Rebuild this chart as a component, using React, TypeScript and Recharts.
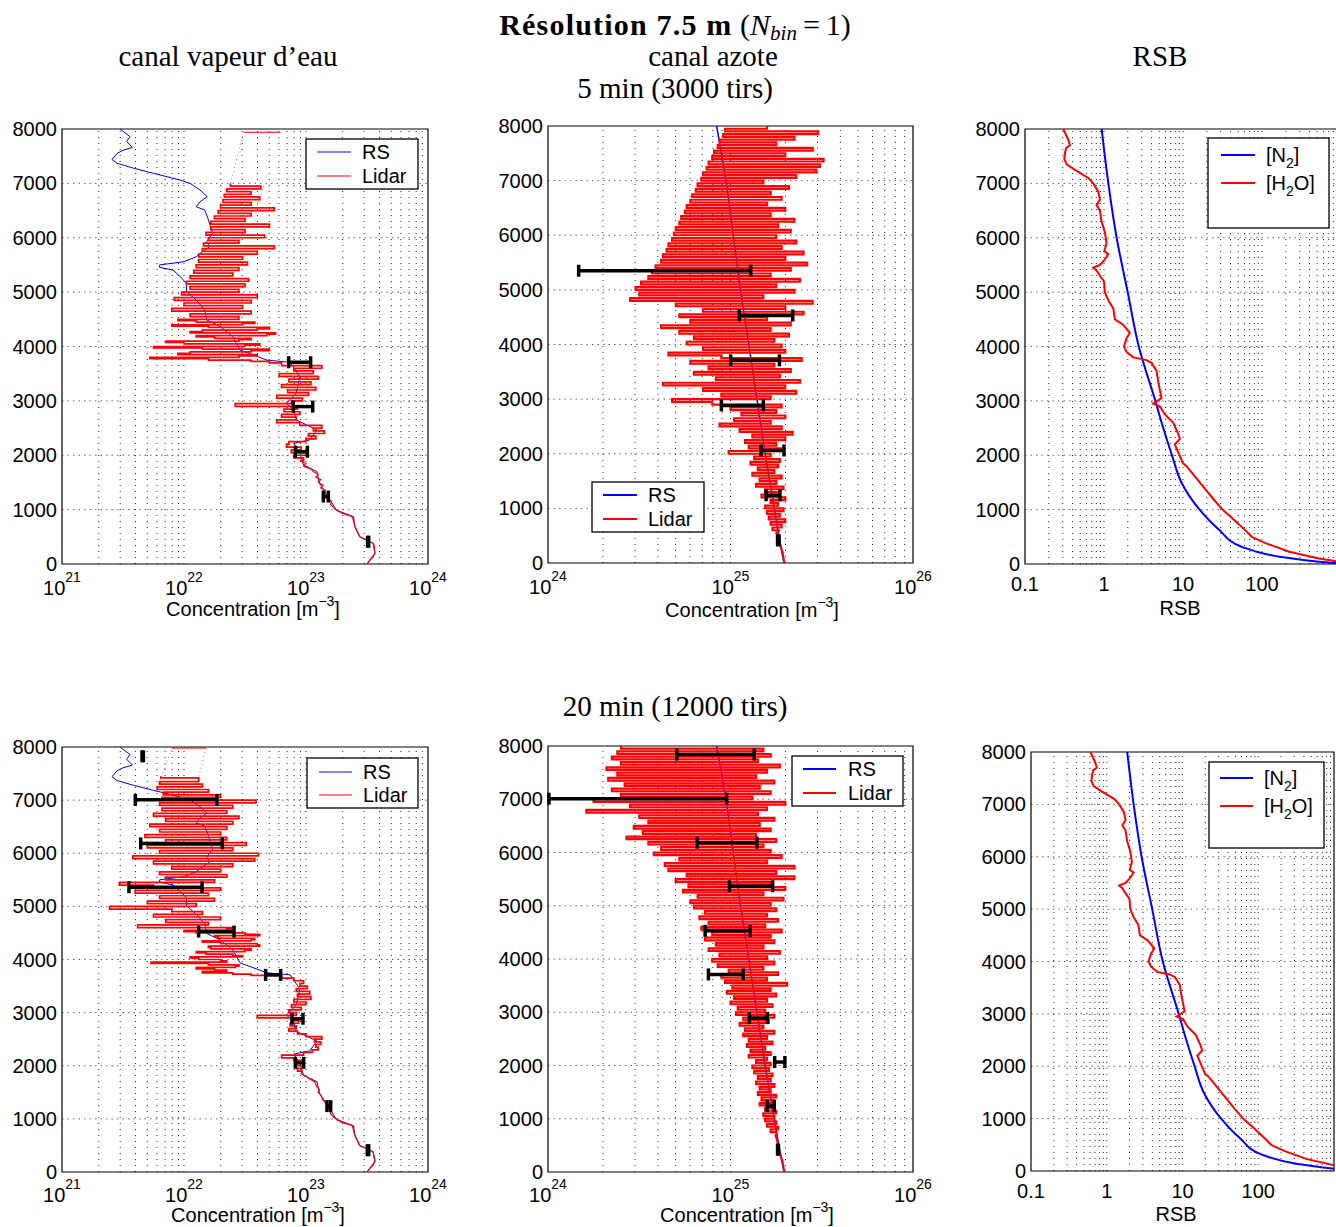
import React from 'react';
import { ScatterChart, Scatter, XAxis, YAxis, ReferenceLine, ReferenceArea, ErrorBar } from 'recharts';

const W = 1350;
const H = 1227;
const RED = '#ff0000';
const BLUE = '#0000ff';
const SANS = '"Liberation Sans", Arial, Helvetica, sans-serif';
const SERIF = '"Liberation Serif", "Times New Roman", serif';

// ---------- axes ----------
const Y_TICKS = [0, 1000, 2000, 3000, 4000, 5000, 6000, 7000, 8000];
const H_GRID = [1000, 2000, 3000, 4000, 5000, 6000, 7000];
const MANT = [1, 2, 3, 4, 5, 6, 7, 8, 9];
const H2O_TICKS = [1e21, 1e22, 1e23, 1e24];
const N2_TICKS = [1e24, 1e25, 1e26];
const RSB_TICKS = [0.1, 1, 10, 100];

// ---------- data: [altitude m, log10(value)] ----------
const rsH2O: [number, number][] = [[0,23.50],[200,23.565],[380,23.55],[500,23.44],[690,23.40],[870,23.39],[990,23.25],[1240,23.18],[1485,23.11],[1700,23.09],[1820,22.98],[2035,22.95],[2220,22.90],[2280,23.03],[2465,23.09],[2650,22.92],[2830,22.90],[2955,22.84],[3140,22.92],[3445,22.95],[3710,22.87],[3750,22.68],[3935,22.46],[4180,22.40],[4365,22.30],[4490,22.185],[4670,22.17],[4855,22.10],[5010,22.02],[5160,22.02],[5285,21.97],[5405,21.91],[5455,21.80],[5500,21.80],[5560,22.00],[5650,22.10],[5710,22.13],[5835,22.21],[5930,22.185],[6080,22.235],[6330,22.20],[6510,22.17],[6570,22.10],[6660,22.13],[6755,22.19],[6880,22.13],[7000,22.05],[7060,21.97],[7185,21.75],[7280,21.585],[7370,21.45],[7440,21.41],[7550,21.45],[7610,21.50],[7660,21.577],[7770,21.53],[7860,21.557],[8000,21.475]];

const rsN2: [number, number][] = [[0,25.293],[500,25.265],[1000,25.24],[2000,25.19],[3000,25.145],[4000,25.10],[5000,25.055],[6000,25.015],[7000,24.975],[7700,24.94],[8000,24.924]];

const h2oLidar5: [number, number][] = [[0,23.50],[60,23.52],[130,23.55],[200,23.565],[270,23.56],[330,23.56],[380,23.55],[440,23.50],[500,23.44],[600,23.42],[690,23.40],[780,23.39],[870,23.38],[930,23.30],[990,23.25],[1050,23.22],[1100,23.20],[1150,23.21],[1200,23.17],[1250,23.19],[1300,23.15],[1350,23.16],[1400,23.12],[1450,23.14],[1500,23.10],[1550,23.12],[1600,23.08],[1650,23.10],[1700,23.06],[1750,23.04],[1800,22.98],[1850,23.00],[1900,22.95],[1950,22.98],[2000,22.90],[2050,23.00],[2100,22.88],[2150,22.96],[2200,22.84],[2250,22.86],[2300,23.00],[2350,23.08],[2400,23.02],[2450,23.15],[2500,23.06],[2550,23.13],[2600,22.95],[2650,22.76],[2700,22.92],[2750,22.80],[2800,22.95],[2850,22.82],[2900,22.93],[2950,22.42],[3000,22.88],[3050,22.97],[3100,22.76],[3150,23.02],[3200,22.85],[3250,23.08],[3300,22.80],[3350,23.04],[3400,22.86],[3450,23.10],[3500,22.78],[3550,23.06],[3600,22.90],[3650,23.13],[3700,22.80],[3725,22.70],[3750,22.55],[3775,22.20],[3800,21.72],[3825,22.45],[3850,22.60],[3875,21.95],[3900,22.05],[3925,22.55],[3950,22.70],[3975,22.15],[4000,21.75],[4025,22.50],[4050,22.62],[4075,22.00],[4100,21.85],[4125,22.45],[4150,22.55],[4175,22.25],[4200,22.10],[4225,22.68],[4250,22.75],[4275,22.05],[4300,22.15],[4325,22.60],[4350,22.70],[4375,22.20],[4400,21.90],[4425,22.48],[4450,22.58],[4475,22.10],[4500,21.95],[4550,22.45],[4600,22.05],[4650,22.55],[4700,21.90],[4750,22.48],[4800,22.00],[4850,22.55],[4900,21.92],[4950,22.60],[5000,21.98],[5050,22.45],[5100,22.05],[5150,22.50],[5200,22.02],[5250,22.53],[5300,22.05],[5350,22.40],[5400,22.08],[5450,22.45],[5500,22.10],[5550,22.52],[5600,22.12],[5650,22.48],[5700,22.12],[5750,22.60],[5800,22.15],[5850,22.74],[5900,22.16],[5950,22.45],[6000,22.20],[6050,22.66],[6100,22.18],[6150,22.50],[6200,22.22],[6250,22.70],[6300,22.22],[6350,22.50],[6400,22.25],[6450,22.55],[6500,22.28],[6550,22.74],[6600,22.30],[6650,22.55],[6700,22.32],[6750,22.62],[6800,22.33],[6850,22.55],[6900,22.35],[6950,22.63],[7000,22.38]];
const h2oFaint5a: [number, number][] = [[7000,22.38],[7940,22.49]];
const h2oFaint5b: [number, number][] = [[6450,22.58],[7000,22.66]];
const h2oTop5: [number, number][] = [[7940,22.49],[7940,22.79]];

const n2Lidar5: [number, number][] = [[0,25.295],[100,25.29],[200,25.285],[300,25.275],[400,25.265],[500,25.26],[550,25.25],[600,25.27],[650,25.23],[700,25.28],[750,25.22],[800,25.30],[850,25.21],[900,25.27],[950,25.20],[1000,25.29],[1050,25.19],[1100,25.26],[1150,25.22],[1200,25.30],[1250,25.17],[1300,25.27],[1350,25.19],[1400,25.29],[1450,25.14],[1500,25.25],[1550,25.16],[1600,25.28],[1650,25.12],[1700,25.24],[1750,25.15],[1800,25.26],[1850,25.11],[1900,25.27],[1950,25.13],[2000,25.22],[2050,24.99],[2100,25.28],[2150,25.10],[2200,25.25],[2250,25.08],[2300,25.30],[2350,25.12],[2400,25.34],[2450,25.05],[2500,25.28],[2550,24.94],[2600,25.22],[2650,25.02],[2700,25.30],[2750,25.06],[2800,25.25],[2850,25.00],[2900,25.28],[2950,24.90],[3000,24.68],[3050,25.22],[3100,24.95],[3150,25.36],[3200,24.85],[3250,25.30],[3300,24.63],[3350,25.38],[3400,24.92],[3450,25.27],[3500,24.80],[3550,25.33],[3600,24.88],[3650,25.24],[3700,24.78],[3750,25.39],[3800,24.95],[3850,24.66],[3900,25.30],[3950,24.85],[4000,25.28],[4050,24.76],[4100,25.24],[4150,24.80],[4200,25.32],[4250,24.72],[4300,25.22],[4350,24.62],[4400,25.33],[4450,24.78],[4500,25.20],[4550,24.72],[4600,25.40],[4650,24.85],[4700,25.30],[4750,24.70],[4800,25.45],[4850,24.45],[4900,25.18],[4950,24.50],[5000,25.35],[5050,24.48],[5100,25.25],[5150,24.51],[5200,25.38],[5250,24.55],[5300,25.22],[5350,24.57],[5400,25.33],[5450,24.59],[5500,25.42],[5550,24.62],[5600,25.30],[5650,24.63],[5700,25.40],[5750,24.65],[5800,25.28],[5850,24.66],[5900,25.36],[5950,24.68],[6000,25.25],[6050,24.69],[6100,25.33],[6150,24.70],[6200,25.26],[6250,24.72],[6300,25.35],[6350,24.73],[6400,25.22],[6450,24.75],[6500,25.30],[6550,24.76],[6600,25.20],[6650,24.78],[6700,25.28],[6750,24.79],[6800,25.22],[6850,24.81],[6900,25.32],[6950,24.82],[7000,25.18],[7050,24.84],[7100,25.36],[7150,24.85],[7200,25.47],[7250,24.87],[7300,25.49],[7350,24.88],[7400,25.51],[7450,24.90],[7500,25.30],[7550,24.91],[7600,25.45],[7650,24.93],[7700,25.25],[7750,24.94],[7800,25.35],[7850,24.96],[7900,25.48],[7950,24.97],[8000,25.20]];

const h2oLidar20: [number, number][] = [[0,23.50],[60,23.52],[130,23.55],[200,23.565],[270,23.56],[330,23.555],[380,23.55],[440,23.50],[500,23.44],[600,23.42],[690,23.40],[780,23.39],[870,23.38],[930,23.30],[990,23.25],[1050,23.22],[1100,23.20],[1150,23.20],[1200,23.18],[1250,23.18],[1300,23.16],[1350,23.14],[1400,23.13],[1450,23.12],[1500,23.10],[1550,23.11],[1600,23.09],[1650,23.08],[1700,23.07],[1750,23.03],[1800,23.00],[1850,22.96],[1900,22.97],[1950,22.93],[2000,22.97],[2050,22.92],[2100,22.96],[2150,22.90],[2200,22.80],[2250,22.98],[2300,23.05],[2350,23.10],[2400,23.08],[2450,23.12],[2500,23.07],[2550,23.13],[2600,23.00],[2650,22.93],[2700,22.86],[2750,22.92],[2800,22.87],[2850,22.94],[2900,22.88],[2950,22.60],[3000,22.92],[3050,22.86],[3100,22.96],[3150,22.88],[3200,23.00],[3250,22.90],[3300,23.04],[3350,22.93],[3400,23.03],[3450,22.92],[3500,23.01],[3550,22.95],[3600,22.98],[3650,22.90],[3700,22.80],[3725,22.55],[3750,22.40],[3775,22.15],[3800,22.35],[3825,22.25],[3850,22.10],[3875,22.42],[3900,22.45],[3925,22.20],[3950,21.73],[3975,22.35],[4000,22.30],[4025,22.12],[4050,22.05],[4075,22.48],[4100,22.40],[4125,22.18],[4150,22.10],[4175,22.50],[4200,22.55],[4225,22.22],[4250,22.20],[4275,22.62],[4300,22.60],[4325,22.30],[4350,22.15],[4375,22.55],[4400,22.58],[4425,22.28],[4450,22.25],[4475,22.62],[4500,22.50],[4525,22.10],[4550,22.00],[4575,22.35],[4600,22.40],[4650,21.62],[4700,22.20],[4750,21.85],[4800,22.30],[4850,21.75],[4900,22.15],[4950,21.90],[5000,21.39],[5050,22.10],[5100,21.70],[5150,22.25],[5200,21.80],[5250,22.20],[5300,21.60],[5350,22.30],[5400,21.75],[5450,21.47],[5500,22.25],[5550,21.85],[5600,22.35],[5650,21.80],[5700,22.30],[5750,21.90],[5800,22.40],[5850,21.75],[5900,22.58],[5950,21.58],[6000,22.61],[6050,21.80],[6100,22.40],[6150,21.70],[6200,22.51],[6250,21.85],[6300,22.35],[6350,21.68],[6400,22.30],[6450,21.80],[6500,22.35],[6550,21.72],[6600,22.40],[6650,21.85],[6700,22.45],[6750,21.75],[6800,22.35],[6850,21.82],[6900,22.40],[6950,21.80],[7000,22.59],[7050,21.82],[7100,22.30],[7150,21.83],[7200,22.20],[7250,21.78],[7300,22.15],[7350,21.80],[7420,22.12],[7450,21.81]];
const h2oFaint20a: [number, number][] = [[7160,21.77],[7980,21.90]];
const h2oFaint20b: [number, number][] = [[7447,22.12],[7980,22.18]];
const h2oTop20: [number, number][] = [[7980,21.90],[7980,22.18]];

const n2Lidar20: [number, number][] = [[0,25.295],[100,25.29],[200,25.285],[300,25.275],[400,25.265],[500,25.26],[600,25.255],[700,25.245],[750,25.25],[800,25.22],[850,25.26],[900,25.20],[950,25.25],[1000,25.19],[1050,25.24],[1100,25.18],[1150,25.25],[1200,25.19],[1250,25.23],[1300,25.16],[1350,25.24],[1400,25.17],[1450,25.25],[1500,25.15],[1550,25.22],[1600,25.16],[1650,25.24],[1700,25.14],[1750,25.22],[1800,25.15],[1850,25.23],[1900,25.13],[1950,25.21],[2000,25.12],[2050,25.22],[2100,25.14],[2150,25.20],[2200,25.10],[2250,25.22],[2300,25.11],[2350,25.19],[2400,25.09],[2450,25.23],[2500,25.10],[2550,25.20],[2600,25.07],[2650,25.24],[2700,25.08],[2750,25.18],[2800,25.05],[2850,25.21],[2900,25.07],[2950,25.24],[3000,25.03],[3050,25.19],[3100,25.04],[3150,25.23],[3200,25.00],[3250,25.20],[3300,25.02],[3350,25.25],[3400,24.98],[3450,25.22],[3500,25.01],[3550,25.31],[3600,24.97],[3650,25.20],[3700,24.95],[3750,25.26],[3800,24.99],[3850,25.18],[3900,24.93],[3950,25.24],[4000,24.90],[4050,25.20],[4100,24.94],[4150,25.27],[4200,24.88],[4250,25.18],[4300,24.92],[4350,25.24],[4400,24.86],[4450,25.22],[4500,24.90],[4550,25.28],[4600,24.84],[4650,25.19],[4700,24.88],[4750,25.26],[4800,24.83],[4850,25.20],[4900,24.86],[4950,25.25],[5000,24.80],[5050,25.22],[5100,24.78],[5150,25.29],[5200,24.82],[5250,25.18],[5300,24.74],[5350,25.30],[5400,24.77],[5450,25.22],[5500,24.70],[5550,25.35],[5600,24.76],[5650,25.25],[5700,24.66],[5750,25.35],[5800,24.64],[5850,25.20],[5900,24.72],[5950,25.28],[6000,24.58],[6050,25.22],[6100,24.62],[6150,25.18],[6200,24.55],[6250,25.25],[6300,24.43],[6350,25.14],[6400,24.52],[6450,25.22],[6500,24.47],[6550,25.16],[6600,24.55],[6650,25.24],[6700,24.50],[6750,25.15],[6800,24.21],[6850,25.20],[6900,24.45],[6950,25.30],[7000,24.25],[7050,25.12],[7100,24.40],[7150,25.22],[7200,24.35],[7250,25.16],[7300,24.42],[7350,25.24],[7400,24.33],[7450,25.14],[7500,24.38],[7550,25.20],[7600,24.32],[7650,25.27],[7700,24.40],[7750,25.15],[7800,24.35],[7850,25.22],[7900,24.38],[7950,25.18],[8000,24.40]];

// error bars: [altitude, log10(low), log10(high)]
const errH2O5 = [[3710,22.858,23.038],[2895,22.896,23.055],[2065,22.913,23.011],[1240,23.142,23.183],[410,23.505,23.514]];
const errN25 = [[5350,24.168,25.111],[4530,25.048,25.341],[3710,25.001,25.268],[2885,24.950,25.180],[2060,25.167,25.293],[1240,25.195,25.271],[415,25.258,25.266]];
const errH2O20 = [[7825,21.656,21.667],[7005,21.601,22.270],[6185,21.645,22.314],[5360,21.549,22.148],[4525,22.12,22.41],[3710,22.669,22.792],[2885,22.885,22.975],[2055,22.913,22.981],[1240,23.172,23.202],[410,23.503,23.514]];
const errN220 = [[7840,24.706,25.130],[7010,24.005,24.979],[6185,24.817,25.145],[5365,24.994,25.231],[4530,24.861,25.108],[3710,24.879,25.07],[2890,25.103,25.201],[2065,25.242,25.298],[1240,25.201,25.240],[420,25.258,25.263]];

// RSB (signal to noise), [altitude, log10(RSB)]
const rsbN2_5: [number, number][] = [[8000,-0.03],[7000,0.055],[6000,0.16],[5000,0.30],[4000,0.44],[3000,0.65],[2500,0.75],[2000,0.86],[1500,0.98],[1000,1.21],[625,1.46],[318,1.74],[134,2.22],[42,2.72],[0,3.1]];
const rsbH2O_5: [number, number][] = [[8000,-0.515],[7800,-0.452],[7700,-0.431],[7650,-0.48],[7550,-0.494],[7450,-0.503],[7350,-0.473],[7250,-0.368],[7100,-0.199],[7000,-0.136],[6850,-0.073],[6700,-0.052],[6600,-0.094],[6500,-0.052],[6300,-0.031],[6100,0.011],[5900,0.032],[5750,0.003],[5700,0.054],[5600,0.011],[5500,-0.052],[5450,-0.136],[5400,-0.094],[5300,-0.052],[5200,-0.001],[5000,0.011],[4850,0.054],[4700,0.117],[4500,0.138],[4400,0.243],[4250,0.327],[4150,0.285],[4000,0.252],[3900,0.285],[3800,0.37],[3750,0.538],[3700,0.601],[3550,0.665],[3350,0.686],[3200,0.707],[3050,0.728],[2950,0.622],[2900,0.707],[2750,0.77],[2600,0.875],[2400,0.938],[2300,0.96],[2200,0.896],[1850,1.0],[1800,1.044],[1500,1.212],[1200,1.381],[1000,1.5],[800,1.655],[600,1.802],[500,1.87],[380,2.05],[226,2.345],[103,2.72],[55,2.92],[0,3.2]];
const rsbN2_20: [number, number][] = [[8000,0.27],[7000,0.355],[6000,0.46],[5000,0.60],[4000,0.74],[3000,0.95],[2500,1.05],[2000,1.16],[1500,1.28],[1000,1.51],[625,1.76],[318,2.04],[134,2.52],[42,3.02],[0,3.4]];
const rsbH2O_20: [number, number][] = [[8000,-0.215],[7800,-0.152],[7700,-0.131],[7650,-0.18],[7550,-0.194],[7450,-0.203],[7350,-0.173],[7250,-0.068],[7100,0.101],[7000,0.164],[6850,0.227],[6700,0.248],[6600,0.206],[6500,0.248],[6300,0.269],[6100,0.311],[5900,0.332],[5750,0.303],[5700,0.354],[5600,0.311],[5500,0.248],[5450,0.164],[5400,0.206],[5300,0.248],[5200,0.299],[5000,0.311],[4850,0.354],[4700,0.417],[4500,0.438],[4400,0.543],[4250,0.627],[4150,0.585],[4000,0.552],[3900,0.585],[3800,0.67],[3750,0.838],[3700,0.901],[3550,0.965],[3350,0.986],[3200,1.007],[3050,1.028],[2950,0.922],[2900,1.007],[2750,1.07],[2600,1.175],[2400,1.238],[2300,1.26],[2200,1.196],[1850,1.3],[1800,1.344],[1500,1.512],[1200,1.681],[1000,1.8],[800,1.955],[600,2.102],[500,2.17],[380,2.35],[226,2.645],[103,3.02],[55,3.22],[0,3.5]];

// ---------- helpers ----------
type Pt = { x: number; y: number };
const toPts = (pairs: [number, number][]): Pt[] => pairs.map(([y, e]) => ({ x: Math.pow(10, e), y }));
const toBars = (rows: number[][]) =>
  rows.map(([y, lo, hi]) => {
    const c = Math.pow(10, (lo + hi) / 2);
    return { x: c, y, err: [c - Math.pow(10, lo), Math.pow(10, hi) - c] };
  });
// split a profile at an altitude (quiet part below, noisy part above)
const below = (pairs: [number, number][], a: number) => pairs.filter(([y]) => y <= a);
const above = (pairs: [number, number][], a: number) => pairs.filter(([y]) => y >= a);

const noDot = () => <g />;

const trace = (key: string, pairs: [number, number][], color: string, width: number, extra: any = {}, joint: any = 'linear') => (
  <Scatter
    key={key}
    data={toPts(pairs)}
    fill={color}
    line={{ stroke: color, strokeWidth: width, ...extra }}
    lineJointType={joint}
    shape={noDot}
    isAnimationActive={false}
  />
);

const bars = (key: string, rows: number[][]) => (
  <Scatter key={key} data={toBars(rows)} fill="#000" shape={noDot} isAnimationActive={false}>
    <ErrorBar dataKey="err" direction="x" width={6} strokeWidth={3.5} stroke="#000" isAnimationActive={false} />
  </Scatter>
);

const makePowTick = (dy: number) => (p: any) => {
  const e = Math.round(Math.log10(p.payload.value));
  return (
    <text x={p.x} y={p.y + dy} textAnchor="middle" fontFamily={SANS} fontSize={20} fill="#000">
      <tspan>10</tspan>
      <tspan dy={-13} fontSize={14}>{e}</tspan>
    </text>
  );
};
const makePlainTick = (dy: number) => (p: any) => (
  <text x={p.x} y={p.y + dy} textAnchor="middle" fontFamily={SANS} fontSize={20} fill="#000">
    {String(p.payload.value)}
  </text>
);
const YTick = (p: any) => (
  <text x={p.x - 5} y={p.y + 7} textAnchor="end" fontFamily={SANS} fontSize={20} fill="#000">
    {p.payload.value}
  </text>
);

type PanelProps = {
  rect: number[];
  domain: [number, number];
  ticks: number[];
  pow: boolean;
  tickDy: number;
  decades: number[];
  children: React.ReactNode;
  top?: React.ReactNode;
};

const AX_W = 60;
const AX_H = 40;

function axes(domain: [number, number], ticks: number[], xTick: any, yTick: any) {
  return [
    <XAxis
      key="x"
      type="number"
      dataKey="x"
      scale="log"
      domain={domain}
      ticks={ticks}
      allowDataOverflow
      interval={0}
      height={AX_H}
      tickSize={0}
      tickMargin={0}
      axisLine={false}
      tickLine={false}
      tick={xTick}
    />,
    <YAxis
      key="y"
      type="number"
      dataKey="y"
      domain={[0, 8000]}
      ticks={Y_TICKS}
      allowDataOverflow
      interval={0}
      width={AX_W}
      tickSize={0}
      tickMargin={0}
      axisLine={false}
      tickLine={false}
      tick={yTick}
    />,
  ];
}

function Panel({ rect, domain, ticks, pow, tickDy, decades, children, top }: PanelProps) {
  const [L, T, R, B] = rect;
  const margin = { left: L - AX_W, top: T, right: W - R, bottom: H - B - AX_H };
  const vgrid = decades
    .flatMap((d) => MANT.map((m) => m * Math.pow(10, d)))
    .filter((v) => v > domain[0] * 1.001 && v < domain[1] * 0.999);
  const XT = pow ? makePowTick(tickDy) : makePlainTick(tickDy);
  return (
    <>
      <div style={{ position: 'absolute', left: 0, top: 0 }}>
        <ScatterChart width={W} height={H} margin={margin}>
          {axes(domain, ticks, <XT />, <YTick />)}
          {vgrid.map((v) => (
            <ReferenceLine key={'v' + v} x={v} stroke="#222" strokeWidth={1} strokeDasharray="1 5" />
          ))}
          {H_GRID.map((v) => (
            <ReferenceLine key={'h' + v} y={v} stroke="#666" strokeWidth={1} strokeDasharray="1.5 4" />
          ))}
        </ScatterChart>
      </div>
      <div style={{ position: 'absolute', left: 0, top: 0 }}>
        <ScatterChart width={W} height={H} margin={margin}>
          {axes(domain, ticks, false, false)}
          {children}
          <ReferenceArea x1={domain[0]} x2={domain[1]} y1={0} y2={8000} fill="none" stroke="#000" strokeWidth={1.2} ifOverflow="visible" />
        </ScatterChart>
      </div>
      {top ? (
        <div style={{ position: 'absolute', left: 0, top: 0 }}>
          <ScatterChart width={W} height={H} margin={margin}>
            {axes(domain, ticks, false, false)}
            {top}
          </ScatterChart>
        </div>
      ) : null}
    </>
  );
}

function Legend({ box, lineX, textX, rows, lw }: { box: number[]; lineX: number[]; textX: number; rows: { y: number; color: string; label: React.ReactNode }[]; lw: number }) {
  return (
    <g>
      <rect x={box[0]} y={box[1]} width={box[2] - box[0]} height={box[3] - box[1]} fill="#fff" stroke="#000" strokeWidth={1.3} />
      {rows.map((r, i) => (
        <g key={i}>
          <line x1={lineX[0]} x2={lineX[1]} y1={r.y} y2={r.y} stroke={r.color} strokeWidth={lw} />
          <text x={textX} y={r.y + 7} fontFamily={SANS} fontSize={20} fill="#000">{r.label}</text>
        </g>
      ))}
    </g>
  );
}

const n2Label = (
  <>
    [N<tspan dy={6} fontSize={14}>2</tspan><tspan dy={-6}>]</tspan>
  </>
);
const h2oLabel = (
  <>
    [H<tspan dy={6} fontSize={14}>2</tspan><tspan dy={-6}>O]</tspan>
  </>
);

const ConcLabel = ({ x, y }: { x: number; y: number }) => (
  <text x={x} y={y} textAnchor="middle" fontFamily={SANS} fontSize={20} fill="#000">
    Concentration [m<tspan dy={-10} fontSize={14}>−3</tspan><tspan dy={10}>]</tspan>
  </text>
);

function Overlay() {
  return (
    <svg width={1336} height={1227} style={{ position: 'absolute', left: 0, top: 0 }}>
      <text x={675} y={35} textAnchor="middle" fontFamily={SERIF} fontSize={30} fill="#000">
        <tspan fontWeight="bold" letterSpacing={1.2}>Résolution 7.5 m</tspan>
        <tspan> (</tspan>
        <tspan fontStyle="italic">N</tspan>
        <tspan fontStyle="italic" fontSize={21} dy={5}>bin</tspan>
        <tspan dy={-5} dx={6}>=</tspan>
        <tspan dx={6}>1)</tspan>
      </text>
      <text x={228} y={66} textAnchor="middle" fontFamily={SERIF} fontSize={29} fill="#000">canal vapeur d’eau</text>
      <text x={713} y={66} textAnchor="middle" fontFamily={SERIF} fontSize={29} fill="#000">canal azote</text>
      <text x={1160} y={66} textAnchor="middle" fontFamily={SERIF} fontSize={29} fill="#000">RSB</text>
      <text x={675} y={98} textAnchor="middle" fontFamily={SERIF} fontSize={29} fill="#000">5 min (3000 tirs)</text>
      <text x={675} y={716} textAnchor="middle" fontFamily={SERIF} fontSize={29} fill="#000">20 min (12000 tirs)</text>

      <ConcLabel x={253} y={616} />
      <ConcLabel x={752} y={617} />
      <ConcLabel x={258} y={1222} />
      <ConcLabel x={747} y={1222} />
      <text x={1180} y={615} textAnchor="middle" fontFamily={SANS} fontSize={20} fill="#000">RSB</text>
      <text x={1176} y={1221} textAnchor="middle" fontFamily={SANS} fontSize={20} fill="#000">RSB</text>

      <Legend box={[306, 139, 418, 189]} lineX={[317, 351]} textX={362} lw={1}
        rows={[{ y: 152, color: BLUE, label: 'RS' }, { y: 176, color: RED, label: 'Lidar' }]} />
      <Legend box={[592, 482, 704, 532]} lineX={[603, 637]} textX={648} lw={2}
        rows={[{ y: 495, color: BLUE, label: 'RS' }, { y: 519, color: RED, label: 'Lidar' }]} />
      <Legend box={[1208, 138, 1329, 228]} lineX={[1221, 1255]} textX={1266} lw={2}
        rows={[{ y: 155, color: BLUE, label: n2Label }, { y: 183, color: RED, label: h2oLabel }]} />
      <Legend box={[307, 758, 418, 808]} lineX={[319, 352]} textX={363} lw={1}
        rows={[{ y: 772, color: BLUE, label: 'RS' }, { y: 795, color: RED, label: 'Lidar' }]} />
      <Legend box={[792, 756, 903, 806]} lineX={[803, 836]} textX={848} lw={2}
        rows={[{ y: 769, color: BLUE, label: 'RS' }, { y: 793, color: RED, label: 'Lidar' }]} />
      <Legend box={[1209, 762, 1324, 848]} lineX={[1220, 1253]} textX={1264} lw={2}
        rows={[{ y: 778, color: BLUE, label: n2Label }, { y: 806, color: RED, label: h2oLabel }]} />
    </svg>
  );
}

export default function App() {
  return (
    <div style={{ position: 'absolute', left: 0, top: 0, width: 1336, height: 1227, overflow: 'hidden', background: '#fff' }}>
      <Panel rect={[62, 129, 428, 564]} domain={[1e21, 1e24]} ticks={H2O_TICKS} pow tickDy={31} decades={[21, 22, 23]}
        top={bars('eb1', errH2O5)}>
        {trace('rs1', rsH2O, BLUE, 1)}
        {trace('li1a', below(h2oLidar5, 1900), RED, 1.2)}
        {trace('li1b', above(h2oLidar5, 1900), RED, 1.7, {}, 'stepAfter')}
        {trace('fa1', h2oFaint5a, RED, 0.8, { strokeDasharray: '1 3', strokeOpacity: 0.8 })}
        {trace('fb1', h2oFaint5b, RED, 0.8, { strokeDasharray: '1 3', strokeOpacity: 0.8 })}
        {trace('tp1', h2oTop5, RED, 1)}
      </Panel>
      <Panel rect={[548, 126, 913, 563]} domain={[1e24, 1e26]} ticks={N2_TICKS} pow tickDy={31} decades={[24, 25]}
        top={bars('eb2', errN25)}>
        {trace('rs2', rsN2, BLUE, 1.5, {}, 'monotoneY')}
        {trace('li2a', below(n2Lidar5, 600), RED, 2)}
        {trace('li2b', above(n2Lidar5, 600), RED, 2.2, {}, 'stepAfter')}
      </Panel>
      <Panel rect={[1025, 129, 1341, 564]} domain={[0.1, 1000]} ticks={RSB_TICKS} pow={false} tickDy={27} decades={[-1, 0, 1, 2]}>
        {trace('n3', rsbN2_5, BLUE, 2, {}, 'monotoneY')}
        {trace('h3', rsbH2O_5, RED, 2)}
      </Panel>
      <Panel rect={[62, 747, 428, 1172]} domain={[1e21, 1e24]} ticks={H2O_TICKS} pow tickDy={30} decades={[21, 22, 23]}
        top={bars('eb4', errH2O20)}>
        {trace('rs4', rsH2O, BLUE, 1)}
        {trace('li4a', below(h2oLidar20, 1900), RED, 1.2)}
        {trace('li4b', above(h2oLidar20, 1900), RED, 1.7, {}, 'stepAfter')}
        {trace('fa4', h2oFaint20a, RED, 0.8, { strokeDasharray: '1 3', strokeOpacity: 0.8 })}
        {trace('fb4', h2oFaint20b, RED, 0.8, { strokeDasharray: '1 3', strokeOpacity: 0.8 })}
        {trace('tp4', h2oTop20, RED, 1)}
      </Panel>
      <Panel rect={[548, 746, 913, 1172]} domain={[1e24, 1e26]} ticks={N2_TICKS} pow tickDy={30} decades={[24, 25]}
        top={bars('eb5', errN220)}>
        {trace('rs5', rsN2, BLUE, 1.5, {}, 'monotoneY')}
        {trace('li5a', below(n2Lidar20, 700), RED, 2)}
        {trace('li5b', above(n2Lidar20, 700), RED, 2.2, {}, 'stepAfter')}
      </Panel>
      <Panel rect={[1031, 752, 1334, 1171]} domain={[0.1, 1000]} ticks={RSB_TICKS} pow={false} tickDy={27} decades={[-1, 0, 1, 2]}>
        {trace('n6', rsbN2_20, BLUE, 2, {}, 'monotoneY')}
        {trace('h6', rsbH2O_20, RED, 2)}
      </Panel>
      <Overlay />
    </div>
  );
}
